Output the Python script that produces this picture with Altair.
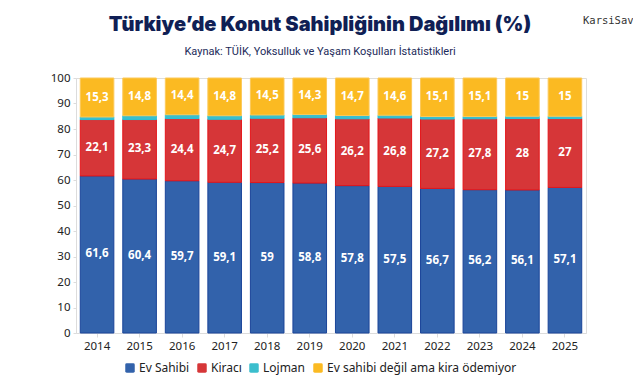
import altair as alt
import pandas as pd

years = ["2014", "2015", "2016", "2017", "2018", "2019", "2020", "2021", "2022", "2023", "2024", "2025"]
ev_sahibi = [61.6, 60.4, 59.7, 59.1, 59.0, 58.8, 57.8, 57.5, 56.7, 56.2, 56.1, 57.1]
kiraci = [22.1, 23.3, 24.4, 24.7, 25.2, 25.6, 26.2, 26.8, 27.2, 27.8, 28.0, 27.0]
lojman = [1.0, 1.5, 1.5, 1.4, 1.3, 1.3, 1.3, 1.1, 1.0, 0.9, 0.9, 0.9]
kira_odemiyor = [15.3, 14.8, 14.4, 14.8, 14.5, 14.3, 14.7, 14.6, 15.1, 15.1, 15.0, 15.0]

series = ["Ev Sahibi", "Kiracı", "Lojman", "Ev sahibi değil ama kira ödemiyor"]
fills = ["#3262ab", "#d63638", "#3bbecd", "#fbba22"]
strokes = ["#1a4499", "#e5151a", "#27c4d8", "#fcc95a"]

title = "Türkiye’de Konut Sahipliğinin Dağılımı (%)"
subtitle = "Kaynak: TÜİK, Yoksulluk ve Yaşam Koşulları İstatistikleri"
watermark = "KarsiSav"

rows = []
for name, vals, show in zip(series, [ev_sahibi, kiraci, lojman, kira_odemiyor], [True, True, False, True]):
    for y, v in zip(years, vals):
        rows.append({
            "year": y, "series": name, "value": v,
            "order": series.index(name),
            "label": (f"{v:g}".replace(".", ",")) if show else "",
        })
df = pd.DataFrame(rows)

base = alt.Chart(df).transform_stack(
    stack="value", groupby=["year"], sort=[alt.SortField("order", order="ascending")], as_=["v0", "v1"]
).transform_calculate(mid="(datum.v0 + datum.v1) / 2")

yaxis = alt.Axis(values=list(range(0, 101, 10)), labelFontSize=11.5, labelColor="#222",
                 labelFont="Noto Sans", grid=False, domainColor="#dcdcdc", labelOverlap=False,
                 tickColor="#dcdcdc", tickSize=3, labelPadding=3, title=None)
xaxis = alt.Axis(labelAngle=0, labelFontSize=11.5, labelColor="#222", labelFont="Noto Sans",
                 domainColor="#dcdcdc", tickColor="#dcdcdc", tickSize=4, labelPadding=3, title=None)
yscale = alt.Scale(domain=[0, 100])
xscale = alt.Scale(paddingInner=0.21, paddingOuter=0.1)

bars = base.mark_bar(strokeWidth=1).encode(
    x=alt.X("year:N", sort=years, scale=xscale, axis=xaxis),
    y=alt.Y("v0:Q", scale=yscale, axis=yaxis),
    y2="v1:Q",
    color=alt.Color("series:N", sort=series,
                    scale=alt.Scale(domain=series, range=fills),
                    legend=alt.Legend(title=None, orient="none", direction="horizontal",
                                      legendX=48, legendY=284, labelLimit=400,
                                      labelFontSize=12, labelFont="Noto Sans", labelColor="#222",
                                      symbolType="M-0.7,-1H0.7Q1,-1 1,-0.7V0.7Q1,1 0.7,1H-0.7Q-1,1 -1,0.7V-0.7Q-1,-1 -0.7,-1Z",
                                      symbolSize=90, symbolStrokeWidth=0, symbolOpacity=1,
                                      labelOffset=3, columnPadding=6)),
    stroke=alt.Stroke("series:N", sort=series, scale=alt.Scale(domain=series, range=strokes), legend=None),
    order=alt.Order("order:Q"),
)

labels = base.mark_text(color="white", fontWeight="bold", fontSize=11.5, font="Open Sans").encode(
    x=alt.X("year:N", sort=years, scale=xscale, axis=xaxis),
    y=alt.Y("mid:Q", scale=yscale, axis=yaxis),
    text="label:N",
)

tdf = pd.DataFrame({"t": [title]})
sdf = pd.DataFrame({"t": [subtitle]})
wdf = pd.DataFrame({"t": [watermark]})

t1 = alt.Chart(tdf).mark_text(fontSize=20, fontWeight=900, font="Inter", color="#101f55", align="center").encode(
    text="t:N", x=alt.value(244), y=alt.value(-53))
t2 = alt.Chart(sdf).mark_text(fontSize=11, font="Roboto", color="#1c2a5a", align="center").encode(
    text="t:N", x=alt.value(244), y=alt.value(-26))
t3 = alt.Chart(wdf).mark_text(fontSize=10.5, font="DejaVu Sans Mono", color="#333", align="left").encode(
    text="t:N", x=alt.value(507), y=alt.value(-57))

chart = alt.layer(bars, labels, t1, t2, t3).resolve_scale(color="independent").properties(
    width=510, height=255,
    autosize=alt.AutoSizeParams(type="none"),
    padding={"left": 68, "top": 70, "right": 47, "bottom": 45},
).configure_view(stroke=None).configure(background="white")

chart.save("out.html", embed_options={"renderer": "svg", "actions": False})
